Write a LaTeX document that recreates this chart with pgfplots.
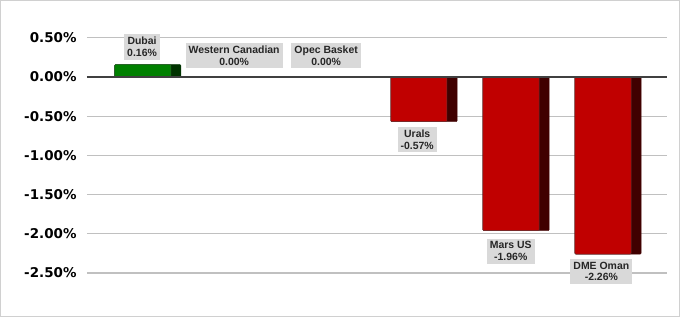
\documentclass[border=0pt]{standalone}
\usepackage{pgfplots}
\pgfplotsset{compat=1.18}
\usepackage{fontspec}
\setmainfont{Liberation Sans}
\newfontfamily\tickfont{DejaVu Sans}
\definecolor{gridc}{HTML}{C0C0C0}
\definecolor{zeroc}{HTML}{404040}
\definecolor{framec}{HTML}{D0D0D0}
\definecolor{labelc}{HTML}{D9D9D9}
\definecolor{gfront}{HTML}{008000}
\definecolor{gside}{HTML}{003300}
\definecolor{rfront}{HTML}{C00000}
\definecolor{rside}{HTML}{400000}
\begin{document}
\begin{tikzpicture}
\path[use as bounding box] (-87bp,-12.6bp) rectangle (593bp,304.4bp);
\begin{axis}[
  at={(0,0)}, anchor=south west,
  scale only axis,
  width=580bp, height=286.16bp,
  xmin=-0.66, xmax=5.64,
  ymin=-2.9, ymax=0.75,
  axis line style={draw=none},
  xtick=\empty,
  ytick={-2.5,-2,-1.5,-1,-0.5,0,0.5},
  major tick length=0pt,
  ymajorgrids,
  grid style={gridc, line width=1.2bp},
  /pgf/number format/assume math mode=true,
  yticklabel={\pgfmathprintnumber[fixed,fixed zerofill,precision=2]{\tick}\%},
  yticklabel style={font=\tickfont\bfseries\fontsize{13.5}{13.5}\selectfont, anchor=east, xshift=-7bp},
  clip=false,
]
% side (dark) faces
\addplot[ybar, bar width=0.72, bar shift=0, fill=gside, draw=gside, rounded corners=1bp] coordinates {(0,0.16)};
\addplot[ybar, bar width=0.72, bar shift=0, fill=rside, draw=rside, rounded corners=1bp] coordinates {(3,-0.57) (4,-1.96) (5,-2.26)};
% front faces
\addplot[ybar, bar width=0.61, bar shift=-0.055, fill=gfront, draw=gside!80, line width=0.5bp, rounded corners=1bp] coordinates {(0,0.16)};
\addplot[ybar, bar width=0.61, bar shift=-0.055, fill=rfront, draw=rside!80, line width=0.5bp, rounded corners=1bp] coordinates {(3,-0.57) (4,-1.96) (5,-2.26)};
% zero line
\draw[zeroc, line width=1.3bp] (axis cs:-0.66,0) -- (axis cs:5.64,0);
% data labels
\addplot[draw=none, mark=none, point meta=explicit symbolic, nodes near coords,
  every node near coord/.style={anchor=center, fill=labelc, align=center,
    font=\bfseries\fontsize{10.5}{11.8}\selectfont, inner sep=3bp, text=black!85}]
  coordinates {
  (-0.062,0.383) [{Dubai\\0.16\%}]
  (0.938,0.274) [{Western Canadian\\0.00\%}]
  (1.938,0.274) [{Opec Basket\\0.00\%}]
  (2.927,-0.80) [{Urals\\-0.57\%}]
  (3.943,-2.22) [{Mars US\\-1.96\%}]
  (4.927,-2.48) [{DME Oman\\-2.26\%}]
  };
\end{axis}
\draw[framec, line width=1.2bp] (-86.4bp,-12.0bp) rectangle (592.4bp,303.8bp);
\end{tikzpicture}
\end{document}
